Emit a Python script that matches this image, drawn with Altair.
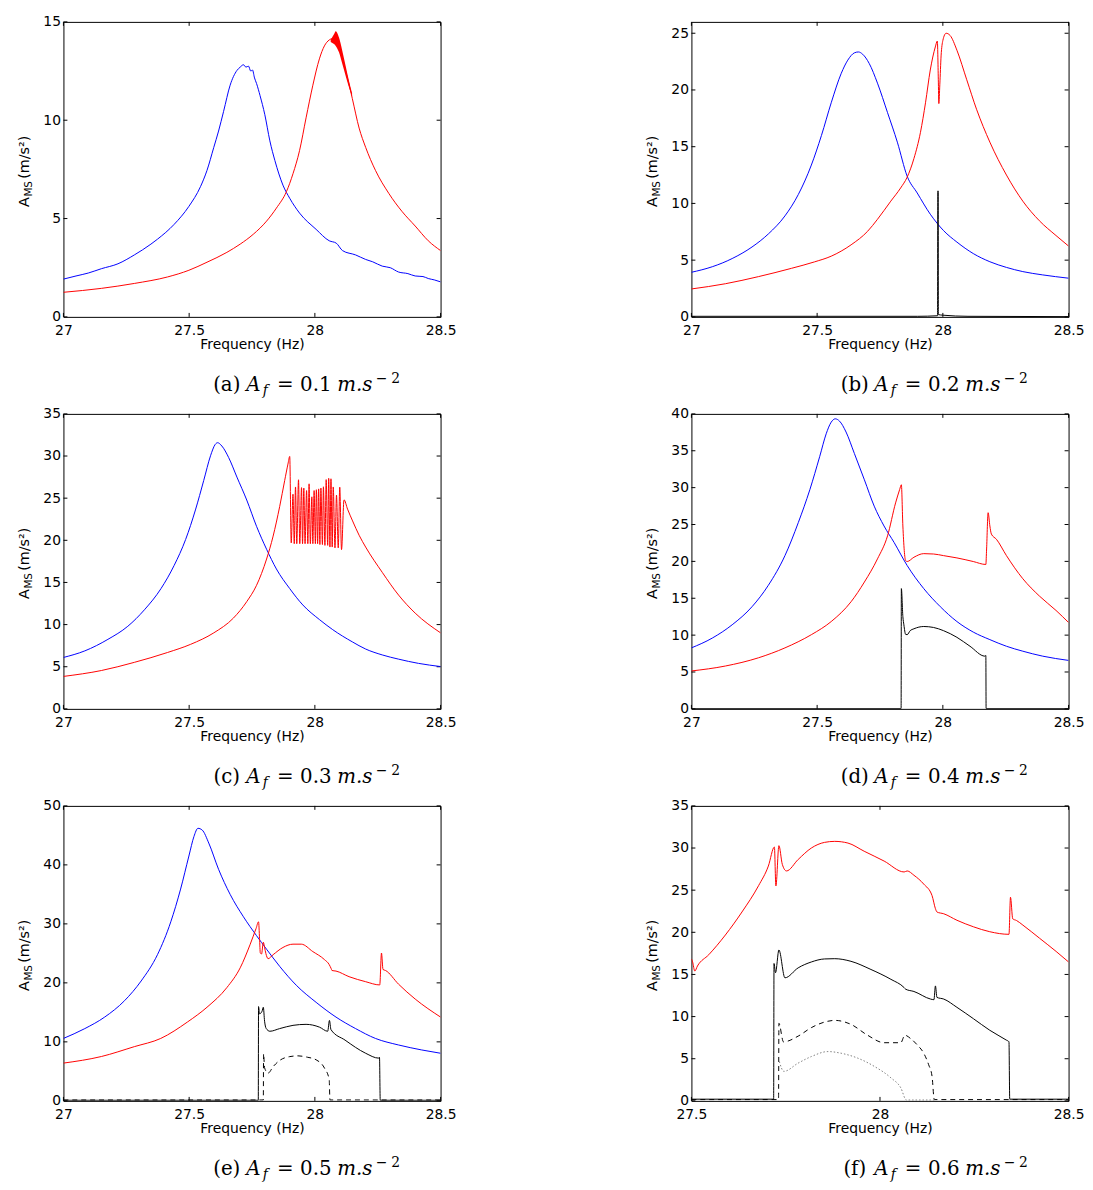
import altair as alt
import pandas as pd

# ---------------- data: (frequency Hz, A_MS m/s^2) ----------------
A_BLUE = [(27.000, 1.92), (27.050, 2.08), (27.099, 2.23), (27.151, 2.45), (27.217, 2.70), (27.282, 3.15),
          (27.348, 3.70), (27.374, 3.95), (27.440, 4.70), (27.499, 5.62), (27.545, 6.62), (27.571, 7.45),
          (27.598, 8.62), (27.617, 9.45), (27.637, 10.45), (27.663, 11.78), (27.690, 12.53), (27.703, 12.70),
          (27.716, 12.82), (27.726, 12.70), (27.736, 12.75), (27.745, 12.50), (27.752, 12.55), (27.760, 12.15),
          (27.768, 11.87), (27.782, 11.25), (27.801, 10.28), (27.821, 8.95), (27.841, 7.95), (27.873, 6.70),
          (27.900, 6.03), (27.939, 5.28), (28.005, 4.45), (28.057, 3.87), (28.085, 3.75), (28.110, 3.37),
          (28.162, 3.15), (28.202, 2.92), (28.230, 2.80), (28.268, 2.58), (28.300, 2.50), (28.333, 2.28),
          (28.370, 2.20), (28.399, 2.08), (28.430, 2.05), (28.451, 1.95), (28.475, 1.88), (28.500, 1.78)]
A_RED = [(27.000, 1.25), (27.151, 1.45), (27.282, 1.70), (27.414, 2.03), (27.499, 2.37), (27.571, 2.78),
         (27.650, 3.28), (27.703, 3.70), (27.755, 4.20), (27.808, 4.87), (27.847, 5.53), (27.887, 6.37),
         (27.913, 7.28), (27.939, 8.45), (27.965, 10.12), (27.992, 11.78), (28.018, 13.12), (28.038, 13.78),
         (28.057, 14.08), (28.070, 14.15), (28.083, 14.15), (28.096, 13.82), (28.109, 13.20), (28.122, 12.53),
         (28.135, 11.87), (28.149, 11.10), (28.176, 9.60), (28.202, 8.62), (28.241, 7.45), (28.294, 6.28),
         (28.346, 5.37), (28.399, 4.62), (28.451, 3.87), (28.500, 3.37)]
A_RED_BAND = [(28.063, 13.98, 14.08), (28.076, 13.87, 14.37), (28.083, 13.78, 14.53), (28.096, 13.45, 14.20),
              (28.109, 12.87, 13.53), (28.122, 12.28, 12.78), (28.135, 11.70, 12.03), (28.148, 11.20, 11.37)]

B_BLUE = [(27.000, 3.93), (27.083, 4.42), (27.162, 5.14), (27.241, 6.16), (27.306, 7.31), (27.372, 8.90),
          (27.425, 10.78), (27.477, 13.38), (27.517, 15.98), (27.556, 18.87), (27.596, 21.47), (27.622, 22.63),
          (27.648, 23.27), (27.664, 23.35), (27.681, 23.15), (27.707, 22.34), (27.740, 20.60), (27.780, 18.00),
          (27.819, 15.40), (27.858, 12.40), (27.898, 10.92), (27.950, 9.05), (28.003, 7.60), (28.056, 6.59),
          (28.121, 5.58), (28.187, 4.86), (28.253, 4.36), (28.318, 3.99), (28.397, 3.70), (28.500, 3.41)]
B_RED = [(27.000, 2.46), (27.135, 2.92), (27.267, 3.55), (27.398, 4.28), (27.490, 4.85), (27.556, 5.35),
         (27.635, 6.35), (27.701, 7.55), (27.740, 8.60), (27.793, 10.20), (27.832, 11.36), (27.858, 12.31),
         (27.885, 13.96), (27.911, 16.27), (27.931, 18.87), (27.950, 21.76), (27.970, 23.79), (27.978, 24.31),
         (27.982, 20.90), (27.984, 18.80), (27.988, 20.50), (27.993, 23.00), (28.000, 24.36), (28.013, 25.00),
         (28.029, 24.80), (28.056, 23.50), (28.095, 20.90), (28.134, 18.30), (28.187, 15.40), (28.253, 12.50),
         (28.318, 10.20), (28.384, 8.47), (28.450, 7.17), (28.500, 6.24)]
B_BLACK = [(27.000, 0.05), (27.900, 0.05), (27.979, 0.10), (27.980, 11.10), (27.9815, 11.10), (27.982, 0.20),
           (28.000, 0.15), (28.100, 0.05), (28.500, 0.02)]

C_BLUE = [(27.000, 6.10), (27.085, 6.88), (27.177, 8.25), (27.256, 9.80), (27.322, 11.75), (27.388, 14.27),
          (27.440, 17.00), (27.486, 20.10), (27.525, 23.60), (27.558, 27.10), (27.585, 30.03), (27.604, 31.39),
          (27.613, 31.58), (27.630, 31.19), (27.657, 29.83), (27.690, 27.50), (27.729, 24.78), (27.768, 21.66),
          (27.808, 18.94), (27.847, 16.60), (27.900, 14.27), (27.952, 12.33), (28.018, 10.60), (28.071, 9.40),
          (28.149, 7.95), (28.202, 7.10), (28.268, 6.40), (28.333, 5.90), (28.412, 5.40), (28.500, 5.02)]
C_RED = [(27.000, 3.85), (27.151, 4.55), (27.282, 5.52), (27.414, 6.69), (27.506, 7.66), (27.598, 9.02),
         (27.676, 10.77), (27.729, 12.72), (27.768, 14.66), (27.808, 17.78), (27.834, 20.50), (27.860, 24.00),
         (27.880, 27.10), (27.893, 29.05), (27.900, 29.95),
         (27.906, 19.70), (27.913, 25.47), (27.918, 19.60), (27.923, 26.33), (27.928, 19.60), (27.935, 27.18),
         (27.940, 19.60), (27.947, 26.25), (27.951, 19.60), (27.956, 26.20), (27.961, 19.60), (27.967, 25.90),
         (27.972, 19.60), (27.977, 26.70), (27.982, 19.60), (27.988, 25.16), (27.992, 19.60), (27.997, 25.90),
         (28.002, 19.60), (28.006, 26.00), (28.011, 19.60), (28.015, 26.10), (28.020, 19.50), (28.024, 26.20),
         (28.030, 19.50), (28.034, 26.35), (28.040, 19.40), (28.045, 27.20), (28.051, 19.40), (28.055, 27.35),
         (28.060, 19.20), (28.064, 27.30), (28.069, 19.20), (28.073, 26.33), (28.080, 19.10), (28.086, 25.37),
         (28.093, 19.10), (28.099, 26.30), (28.106, 18.90),
         (28.116, 24.80), (28.130, 23.70), (28.150, 22.30), (28.176, 20.60), (28.202, 19.20), (28.268, 16.20),
         (28.333, 13.50), (28.399, 11.36), (28.500, 9.02)]

D_BLUE = [(27.000, 8.27), (27.083, 9.60), (27.162, 11.40), (27.241, 13.85), (27.306, 16.76), (27.372, 20.78),
          (27.425, 25.25), (27.471, 29.72), (27.510, 34.19), (27.536, 37.30), (27.556, 38.88), (27.572, 39.33),
          (27.589, 39.02), (27.615, 37.54), (27.648, 34.64), (27.688, 31.06), (27.727, 27.49), (27.766, 24.80),
          (27.806, 22.57), (27.858, 19.44), (27.924, 16.31), (27.990, 13.85), (28.056, 11.84), (28.121, 10.41),
          (28.187, 9.39), (28.253, 8.49), (28.318, 7.82), (28.397, 7.15), (28.500, 6.57)]
D_RED = [(27.000, 5.14), (27.135, 5.81), (27.267, 6.93), (27.372, 8.27), (27.477, 10.06), (27.556, 11.84),
         (27.635, 14.53), (27.688, 17.20), (27.740, 20.34), (27.780, 23.46), (27.812, 27.93), (27.828, 29.72),
         (27.835, 30.39), (27.841, 24.80), (27.852, 20.10), (27.858, 19.98), (27.885, 20.56), (27.924, 21.05),
         (27.963, 21.00), (28.003, 20.78), (28.056, 20.47), (28.121, 19.98), (28.171, 19.58), (28.174, 21.68),
         (28.180, 26.60), (28.187, 24.80), (28.193, 23.70), (28.213, 23.00), (28.253, 20.78), (28.318, 17.65),
         (28.384, 15.30), (28.450, 13.35), (28.500, 11.71)]
D_BLACK = [(27.000, 0.05), (27.834, 0.05), (27.835, 16.31), (27.841, 12.50), (27.845, 11.40), (27.852, 10.10),
           (27.858, 10.06), (27.870, 10.60), (27.885, 10.86), (27.924, 11.17), (27.963, 11.04), (28.003, 10.60),
           (28.056, 9.70), (28.108, 8.49), (28.167, 7.15), (28.171, 7.24), (28.172, 0.05), (28.500, 0.05)]

E_BLUE = [(27.000, 10.58), (27.085, 12.25), (27.164, 14.20), (27.243, 16.98), (27.309, 20.32), (27.374, 24.78),
          (27.427, 30.35), (27.466, 35.90), (27.499, 41.50), (27.519, 44.80), (27.535, 46.20), (27.552, 45.90),
          (27.578, 43.70), (27.617, 39.25), (27.663, 35.00), (27.716, 31.20), (27.768, 28.00), (27.808, 25.70),
          (27.860, 22.80), (27.926, 19.60), (28.005, 16.70), (28.084, 14.20), (28.162, 12.25), (28.241, 10.58),
          (28.333, 9.47), (28.425, 8.63), (28.500, 8.07)]
E_RED = [(27.000, 6.40), (27.151, 7.52), (27.282, 9.19), (27.387, 10.58), (27.493, 13.36), (27.571, 15.87),
         (27.650, 19.20), (27.703, 22.55), (27.742, 26.45), (27.766, 29.20), (27.776, 30.35), (27.780, 27.50),
         (27.783, 25.06), (27.788, 24.90), (27.795, 26.90), (27.800, 26.00), (27.805, 25.00), (27.814, 24.10),
         (27.834, 24.78), (27.873, 26.00), (27.913, 26.56), (27.946, 26.56), (27.992, 25.30), (28.038, 23.95),
         (28.057, 23.10), (28.065, 22.40), (28.068, 22.10), (28.084, 22.00), (28.136, 21.05), (28.202, 20.20),
         (28.258, 19.65), (28.265, 25.06), (28.271, 22.27), (28.281, 22.10), (28.333, 19.77), (28.399, 17.26),
         (28.500, 14.20)]
E_BLACK = [(27.000, 0.10), (27.775, 0.10), (27.776, 15.98), (27.780, 14.75), (27.790, 15.20), (27.795, 15.87),
           (27.800, 13.50), (27.806, 12.30), (27.821, 11.80), (27.860, 12.25), (27.913, 12.80), (27.965, 12.97),
           (28.018, 12.50), (28.051, 11.80), (28.058, 13.64), (28.064, 12.08), (28.120, 10.30), (28.202, 8.07),
           (28.254, 7.24), (28.257, 7.40), (28.260, 0.10), (28.500, 0.10)]
E_DASH = [(27.000, 0.15), (27.795, 0.15), (27.796, 8.00), (27.800, 5.60), (27.814, 4.70), (27.834, 5.80),
          (27.860, 6.85), (27.900, 7.50), (27.933, 7.63), (27.970, 7.40), (28.005, 6.96), (28.038, 5.57),
          (28.057, 3.62), (28.060, 0.15), (28.500, 0.15)]

F_RED = [(27.500, 16.84), (27.503, 16.50), (27.509, 15.40), (27.516, 16.00), (27.546, 17.34), (27.590, 19.68),
         (27.634, 22.41), (27.678, 25.53), (27.704, 27.86), (27.720, 30.12), (27.724, 25.50), (27.732, 30.28),
         (27.741, 28.06), (27.752, 27.28), (27.783, 28.64), (27.818, 30.00), (27.853, 30.67), (27.880, 30.79),
         (27.915, 30.59), (27.958, 29.62), (28.011, 28.45), (28.064, 27.16), (28.072, 27.28), (28.090, 26.77),
         (28.116, 25.72), (28.138, 24.36), (28.147, 22.80), (28.151, 22.41), (28.169, 22.20), (28.204, 21.43),
         (28.248, 20.65), (28.291, 20.07), (28.342, 19.76), (28.346, 24.16), (28.352, 21.60), (28.362, 21.40),
         (28.379, 20.85), (28.423, 19.30), (28.467, 17.73), (28.500, 16.48)]
F_BLACK = [(27.500, 0.20), (27.718, 0.20), (27.719, 16.30), (27.723, 15.20), (27.732, 17.90), (27.748, 14.60),
           (27.783, 15.78), (27.818, 16.48), (27.853, 16.84), (27.880, 16.87), (27.923, 16.56), (27.976, 15.59),
           (28.029, 14.42), (28.064, 13.44), (28.068, 13.25), (28.090, 12.98), (28.134, 12.08), (28.143, 12.00),
           (28.147, 13.64), (28.151, 12.28), (28.169, 12.08), (28.204, 11.10), (28.248, 9.74), (28.291, 8.38),
           (28.335, 7.21), (28.342, 7.01), (28.344, 0.20), (28.500, 0.20)]
F_DASH = [(27.500, 0.15), (27.731, 0.15), (27.732, 9.20), (27.744, 7.00), (27.783, 7.68), (27.818, 8.69),
          (27.853, 9.35), (27.880, 9.55), (27.923, 9.08), (27.967, 7.79), (28.011, 6.90), (28.055, 6.90),
          (28.066, 7.79), (28.081, 7.40), (28.099, 6.63), (28.116, 5.65), (28.129, 4.29), (28.138, 2.92),
          (28.144, 0.15), (28.500, 0.15)]
F_DOT = [(27.733, 4.68), (27.745, 3.50), (27.783, 4.48), (27.818, 5.26), (27.862, 5.85), (27.897, 5.65),
         (27.941, 5.07), (27.985, 4.09), (28.029, 2.73), (28.055, 1.56), (28.070, 0.10), (28.145, 0.10)]

X_TICKS_A = [27, 27.5, 28, 28.5]
X_TICKS_F = [27.5, 28, 28.5]
Y_TICKS_A = [0, 5, 10, 15]
Y_TICKS_B = [0, 5, 10, 15, 20, 25]
Y_TICKS_C = [0, 5, 10, 15, 20, 25, 30, 35]
Y_TICKS_D = [0, 5, 10, 15, 20, 25, 30, 35, 40]
Y_TICKS_E = [0, 10, 20, 30, 40, 50]
Y_TICKS_F = [0, 5, 10, 15, 20, 25, 30, 35]

LETTERS = ["(a)", "(b)", "(c)", "(d)", "(e)", "(f)"]
AF_VALUES = ["0.1", "0.2", "0.3", "0.4", "0.5", "0.6"]

BLUE, RED, BLACK, GREY = "#0000ff", "#ff0000", "#000000", "#808080"

# ---------------- layout ----------------
W, H = 381, 298
TICK = 4
SANS = "DejaVu Sans"
SERIF = "DejaVu Serif"
DUMMY = pd.DataFrame({"k": [0]})


def to_df(points):
    df = pd.DataFrame(points, columns=["f", "v"])
    df["i"] = range(len(df))
    return df


def text_layer(txt, x, y, font, size, style="normal", angle=0, align="left"):
    kw = dict(text=txt, font=font, fontSize=size, fontStyle=style, align=align,
              baseline="alphabetic", color="black")
    if angle:
        kw["angle"] = angle
    return alt.Chart(DUMMY).mark_text(**kw).encode(x=alt.value(x), y=alt.value(y))


def panel(idx, xdom, xticks, ydom, yticks, series, band=None):
    xs = alt.Scale(domain=xdom, nice=False, zero=False)
    ys = alt.Scale(domain=ydom, nice=False, zero=False)
    xaxis = alt.Axis(values=xticks, format=".3~g", ticks=False, tickSize=0, domain=False, grid=False,
                     labelPadding=7, titlePadding=0, labelFlush=False, labelOverlap=False)
    yaxis = alt.Axis(values=yticks, format="d", ticks=False, tickSize=0, domain=False, grid=False,
                     labelPadding=3, labelFlush=False, labelOverlap=False)
    XT = "Frequency (Hz)"

    def X(field):
        return alt.X(field, scale=xs, axis=xaxis, title=XT)

    def Y(field):
        return alt.Y(field, scale=ys, axis=yaxis, title=None)

    xt = pd.DataFrame({"t": xticks})
    yt = pd.DataFrame({"t": yticks})
    layers = [
        alt.Chart(xt).mark_rule(color="black", strokeWidth=1).encode(
            x=X("t:Q"), y=alt.value(H), y2=alt.value(H - TICK)),
        alt.Chart(xt).mark_rule(color="black", strokeWidth=1).encode(
            x=X("t:Q"), y=alt.value(0), y2=alt.value(TICK)),
        alt.Chart(yt).mark_rule(color="black", strokeWidth=1).encode(
            y=Y("t:Q"), x=alt.value(0), x2=alt.value(TICK)),
        alt.Chart(yt).mark_rule(color="black", strokeWidth=1).encode(
            y=Y("t:Q"), x=alt.value(W), x2=alt.value(W - TICK)),
    ]
    for pts, color, dash in series:
        kw = dict(color=color, strokeWidth=1, clip=True, interpolate="monotone")
        if dash:
            kw["strokeDash"] = dash
        layers.append(alt.Chart(to_df(pts)).mark_line(**kw).encode(
            x=X("f:Q"), y=Y("v:Q"), order=alt.Order("i:Q")))
    if band:
        bdf = pd.DataFrame(band, columns=["f", "lo", "hi"])
        layers.append(alt.Chart(bdf).mark_area(color=RED, opacity=1, interpolate="monotone").encode(
            x=X("f:Q"), y=Y("lo:Q"), y2="hi:Q"))
    # y-axis title  A_MS (m/s^2)
    c = H / 2
    layers += [
        text_layer("A", -34.7, c + 38, SANS, 14.5, angle=270),
        text_layer("MS", -31.5, c + 27.5, SANS, 10.5, angle=270),
        text_layer("(m/s²)", -34.7, c + 9.5, SANS, 14.5, angle=270),
    ]
    # caption  (x) A_f = v m.s^-2   (each piece centred on its place in the figure)
    by = H + 75
    layers += [
        text_layer(LETTERS[idx], 165.0, by, SERIF, 20, align="center"),
        text_layer("A", 192.0, by, SERIF, 20, style="italic", align="center"),
        text_layer("f", 204.0, by + 4, SERIF, 14, style="italic", align="center"),
        text_layer("=", 224.0, by, SERIF, 20, align="center"),
        text_layer(AF_VALUES[idx], 255.0, by, SERIF, 20, align="center"),
        text_layer("m.s", 294.3, by, SERIF, 20, style="italic", align="center"),
        text_layer("−", 321.3, by - 8, SERIF, 14, align="center"),
        text_layer("2", 335.5, by - 8, SERIF, 14, align="center"),
    ]
    return alt.layer(*layers).properties(width=W, height=H)


pa = panel(0, [27, 28.5], X_TICKS_A, [0, 15], Y_TICKS_A,
           [(A_BLUE, BLUE, None), (A_RED, RED, None)], band=A_RED_BAND)
pb = panel(1, [27, 28.5], X_TICKS_A, [0, 26], Y_TICKS_B,
           [(B_BLUE, BLUE, None), (B_RED, RED, None), (B_BLACK, BLACK, None)])
pc = panel(2, [27, 28.5], X_TICKS_A, [0, 35], Y_TICKS_C,
           [(C_BLUE, BLUE, None), (C_RED, RED, None)])
pd_ = panel(3, [27, 28.5], X_TICKS_A, [0, 40], Y_TICKS_D,
            [(D_BLUE, BLUE, None), (D_RED, RED, None), (D_BLACK, BLACK, None)])
pe = panel(4, [27, 28.5], X_TICKS_A, [0, 50], Y_TICKS_E,
           [(E_BLUE, BLUE, None), (E_RED, RED, None), (E_BLACK, BLACK, None), (E_DASH, BLACK, [5, 4])])
pf = panel(5, [27.5, 28.5], X_TICKS_F, [0, 35], Y_TICKS_F,
           [(F_RED, RED, None), (F_BLACK, BLACK, None), (F_DASH, BLACK, [5, 4]), (F_DOT, GREY, [1.5, 2])])

chart = alt.concat(pa, pb, pc, pd_, pe, pf, columns=2,
                   spacing={"row": 98, "column": 253.4}, bounds="flush").properties(
    padding={"left": 8, "top": 0, "right": 0, "bottom": 0}
).configure_view(stroke="black", strokeWidth=1).configure_axis(
    labelFont=SANS, labelFontSize=14, labelColor="black",
    titleFont=SANS, titleFontSize=14, titleColor="black", titleFontWeight="normal"
)

chart.save("out.html", embed_options={"renderer": "svg", "actions": False})
